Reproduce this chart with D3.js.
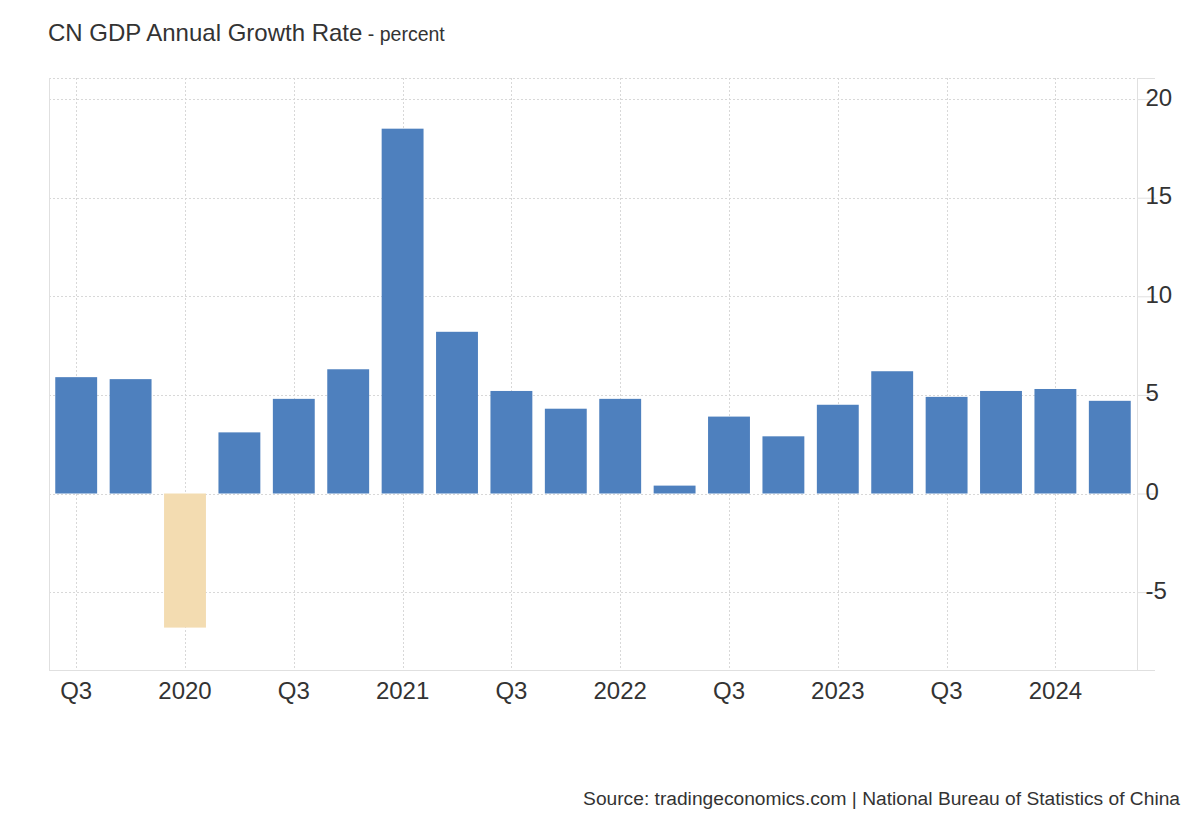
<!DOCTYPE html>
<html><head><meta charset="utf-8">
<script src="https://cdn.jsdelivr.net/npm/d3@7"></script>
<style>body{margin:0;background:#fff;font-family:"Liberation Sans",Arial,sans-serif;}</style>
</head><body><svg id="c" width="1200" height="820"></svg>
<script>
const quarters = ["2019Q3","2019Q4","2020Q1","2020Q2","2020Q3","2020Q4","2021Q1","2021Q2","2021Q3","2021Q4","2022Q1","2022Q2","2022Q3","2022Q4","2023Q1","2023Q2","2023Q3","2023Q4","2024Q1","2024Q2"];
const values = [5.9,5.8,-6.8,3.1,4.8,6.3,18.5,8.2,5.2,4.3,4.8,0.4,3.9,2.9,4.5,6.2,4.9,5.2,5.3,4.7];
const xTickLabels = {"2019Q3":"Q3","2020Q1":"2020","2020Q3":"Q3","2021Q1":"2021","2021Q3":"Q3","2022Q1":"2022","2022Q3":"Q3","2023Q1":"2023","2023Q3":"Q3","2024Q1":"2024"};
const yTicks = [-5,0,5,10,15,20];

const svg = d3.select("#c");
const L=49, R=1137, T=78, B=670;
const x = d3.scaleBand().domain(quarters).range([L,R]).paddingInner(0.23).paddingOuter(0.115);
const y = d3.scaleLinear().domain([-8.95,21.07]).range([B,T]);
const cx = q => x(q)+x.bandwidth()/2;

// grid
const g = svg.append("g");
g.selectAll("line.h").data(yTicks).join("line")
 .attr("x1",L).attr("x2",R).attr("y1",d=>Math.round(y(d))+0.5).attr("y2",d=>Math.round(y(d))+0.5)
 .attr("stroke","#d8d8d8").attr("stroke-dasharray","2,2");
g.append("line").attr("x1",L).attr("x2",R).attr("y1",T+0.5).attr("y2",T+0.5).attr("stroke","#d8d8d8").attr("stroke-dasharray","2,2");
g.selectAll("line.v").data(Object.keys(xTickLabels)).join("line")
 .attr("x1",d=>Math.round(cx(d))+0.5).attr("x2",d=>Math.round(cx(d))+0.5).attr("y1",T).attr("y2",B)
 .attr("stroke","#d8d8d8").attr("stroke-dasharray","2,2");
// frame
g.append("line").attr("x1",L+0.5).attr("x2",L+0.5).attr("y1",T).attr("y2",B).attr("stroke","#e0e0e0");
g.append("line").attr("x1",L).attr("x2",R+18).attr("y1",B+0.5).attr("y2",B+0.5).attr("stroke","#e0e0e0");

// bars
svg.append("g").selectAll("rect").data(quarters).join("rect")
 .attr("x",d=>x(d)).attr("width",x.bandwidth())
 .attr("y",(d,i)=>y(Math.max(0,values[i])))
 .attr("height",(d,i)=>Math.abs(y(values[i])-y(0)))
 .attr("fill",(d,i)=>values[i]<0?"#f3dcb1":"#4e80be");

// y axis (right)
const ya = svg.append("g").attr("transform",`translate(${R+0.5},0)`)
 .call(d3.axisRight(y).tickValues(yTicks).tickSize(18).tickFormat(d=>String(d)));
ya.select(".domain").attr("stroke","#e0e0e0").attr("d",`M0,${T}V${B}`);
ya.selectAll(".tick line").attr("stroke","#e0e0e0");
ya.selectAll(".tick text").attr("fill","#333").attr("font-size","24px").attr("font-family","Liberation Sans, Arial, sans-serif").attr("x",8).attr("dy","0.25em");
svg.append("line").attr("x1",R).attr("x2",R+18).attr("y1",T+0.5).attr("y2",T+0.5).attr("stroke","#e0e0e0");

// x axis labels
const xa = svg.append("g").attr("transform",`translate(0,${B})`)
 .call(d3.axisBottom(x).tickValues(Object.keys(xTickLabels)).tickFormat(d=>xTickLabels[d]).tickSize(0).tickPadding(12));
xa.select(".domain").remove();
xa.selectAll(".tick text").attr("fill","#333").attr("font-size","24px").attr("font-family","Liberation Sans, Arial, sans-serif");

// title
const t = svg.append("text").attr("x",48).attr("y",41).attr("fill","#333").attr("font-size","24px");
t.append("tspan").text("CN GDP Annual Growth Rate");
t.append("tspan").attr("font-size","19.5px").text(" - percent");

svg.append("text").attr("x",1180).attr("y",805).attr("text-anchor","end").attr("fill","#333").attr("font-size","19.2px")
 .text("Source: tradingeconomics.com | National Bureau of Statistics of China");
</script></body></html>
